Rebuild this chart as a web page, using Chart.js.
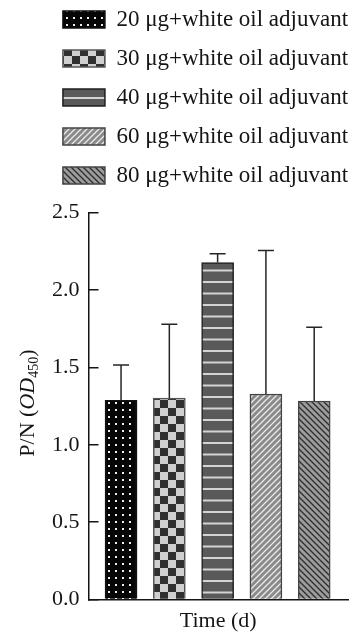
<!DOCTYPE html>
<html>
<head>
<meta charset="utf-8">
<script src="https://cdn.jsdelivr.net/npm/chart.js@4.4.1/dist/chart.umd.min.js"></script>
<style>
  html, body { margin: 0; padding: 0; background: #fff; }
  #wrap { width: 361px; height: 635px; position: relative; }
</style>
</head>
<body>
<div id="wrap"><canvas id="chart"></canvas></div>
<script>
// Datos (P/N a OD450)
const groups = [
  "20 μg+white oil adjuvant",
  "30 μg+white oil adjuvant",
  "40 μg+white oil adjuvant",
  "60 μg+white oil adjuvant",
  "80 μg+white oil adjuvant",
];
const means = [1.287, 1.302, 2.177, 1.328, 1.283];
const errors = [0.228, 0.477, 0.057, 0.927, 0.476];
const yTicks = [0, 0.5, 1.0, 1.5, 2.0, 2.5];
const xTitle = "Time (d)";

const SERIF = "'Liberation Serif', 'Times New Roman', serif";
const ink = "#151515";

// Texturas de relleno de cada barra
function makePattern(kind) {
  const c = document.createElement("canvas");
  const g = c.getContext("2d");
  if (kind === "dots") {
    c.width = 7; c.height = 7;
    g.fillStyle = "#060606"; g.fillRect(0, 0, 7, 7);
    g.fillStyle = "#eeeeee"; g.fillRect(3, 3, 2, 2);
  } else if (kind === "checker") {
    c.width = 16; c.height = 16;
    g.fillStyle = "#cfcfcf"; g.fillRect(0, 0, 16, 16);
    g.fillStyle = "#303030"; g.fillRect(0, 0, 8, 8); g.fillRect(8, 8, 8, 8);
  } else if (kind === "hlines") {
    c.width = 8; c.height = 23;
    g.fillStyle = "#5a5a5a"; g.fillRect(0, 0, 8, 23);
    g.fillStyle = "#d4d4d4"; g.fillRect(0, 5, 8, 2); g.fillRect(0, 16.5, 8, 2);
  } else if (kind === "fwd") {
    c.width = 6; c.height = 6;
    g.fillStyle = "#8a8a8a"; g.fillRect(0, 0, 6, 6);
    g.strokeStyle = "#eaeaea"; g.lineWidth = 1.3;
    g.beginPath();
    g.moveTo(-1, 7); g.lineTo(7, -1);
    g.moveTo(-1, 1); g.lineTo(1, -1);
    g.moveTo(5, 7); g.lineTo(7, 5);
    g.stroke();
  } else if (kind === "back") {
    c.width = 6; c.height = 6;
    g.fillStyle = "#9c9c9c"; g.fillRect(0, 0, 6, 6);
    g.strokeStyle = "#2c2c2c"; g.lineWidth = 1.3;
    g.beginPath();
    g.moveTo(-1, -1); g.lineTo(7, 7);
    g.moveTo(5, -1); g.lineTo(7, 1);
    g.moveTo(-1, 5); g.lineTo(1, 7);
    g.stroke();
  }
  return g.createPattern(c, "repeat");
}

const fills = ["dots", "checker", "hlines", "fwd", "back"].map(makePattern);
const borders = ["#111111", "#555555", "#1e1e1e", "#444444", "#444444"];

// Barras de error (solo hacia arriba)
const errorBarPlugin = {
  id: "errorBars",
  afterDatasetsDraw(chart) {
    const { ctx } = chart;
    const y = chart.scales.y;
    ctx.save();
    ctx.strokeStyle = "#262626";
    ctx.lineWidth = 1.5;
    chart.data.datasets.forEach((ds, i) => {
      const bar = chart.getDatasetMeta(i).data[0];
      if (!bar) return;
      const top = y.getPixelForValue(means[i] + errors[i]);
      const half = bar.width / 4;
      ctx.beginPath();
      ctx.moveTo(bar.x, bar.y);
      ctx.lineTo(bar.x, top);
      ctx.moveTo(bar.x - half, top);
      ctx.lineTo(bar.x + half, top);
      ctx.stroke();
    });
    ctx.restore();
  },
};

// Título del eje Y con cursiva y subíndice: P/N (OD450)
const yTitlePlugin = {
  id: "yTitle",
  afterDraw(chart) {
    const { ctx, chartArea } = chart;
    const parts = [
      { t: "P/N (", f: "22px " + SERIF, dy: 0 },
      { t: "OD", f: "italic 22px " + SERIF, dy: 0 },
      { t: "450", f: "14px " + SERIF, dy: 6 },
      { t: ")", f: "22px " + SERIF, dy: 0 },
    ];
    ctx.save();
    let total = 0;
    parts.forEach((p) => { ctx.font = p.f; p.w = ctx.measureText(p.t).width; total += p.w; });
    ctx.translate(28, (chartArea.top + chartArea.bottom) / 2 - 3);
    ctx.rotate(-Math.PI / 2);
    ctx.fillStyle = ink;
    ctx.textBaseline = "middle";
    let x = -total / 2;
    parts.forEach((p) => {
      ctx.font = p.f;
      ctx.fillText(p.t, x, p.dy);
      x += p.w;
    });
    ctx.restore();
  },
};

// La leyenda de la figura está corrida a la derecha del centro
const legendShift = {
  id: "legendShift",
  afterLayout(chart) {
    const L = chart.legend;
    if (!L) return;
    L.left += 15;
    L.right += 15;
  },
};

const ctx = document.getElementById("chart").getContext("2d");
new Chart(ctx, {
  type: "bar",
  data: {
    datasets: groups.map((g, i) => ({
      label: g,
      data: [{ x: i, y: means[i] }],
      backgroundColor: fills[i],
      borderColor: borders[i],
      borderWidth: 1.5,
      borderSkipped: "bottom",
      grouped: false,
      barThickness: 32,
    })),
  },
  options: {
    responsive: true,
    maintainAspectRatio: false,
    animation: false,
    layout: { padding: { top: -8, left: 33, right: 13, bottom: 1 } },
    plugins: {
      legend: {
        position: "top",
        align: "center",
        labels: {
          boxWidth: 42,
          boxHeight: 17,
          padding: 16,
          color: ink,
          font: { family: SERIF, size: 23 },
        },
      },
      // separador vacío entre leyenda y gráfico
      title: {
        display: true,
        text: "",
        weight: 500,
        padding: 0,
        font: { size: 13 },
      },
      tooltip: { enabled: false },
    },
    scales: {
      x: {
        type: "linear",
        min: -0.674,
        max: 4.70,
        offset: false,
        ticks: { display: false },
        grid: { display: false, drawTicks: false },
        border: { display: true, color: ink, width: 1.5 },
        title: {
          display: true,
          text: xTitle,
          color: ink,
          font: { family: SERIF, size: 22 },
          padding: { top: 8, bottom: 0 },
        },
      },
      y: {
        min: 0,
        max: 2.5,
        afterBuildTicks: (s) => { s.ticks = yTicks.map((v) => ({ value: v })); },
        ticks: {
          color: ink,
          padding: 19,
          font: { family: SERIF, size: 22 },
          callback: (v) => Number(v).toFixed(1),
        },
        grid: {
          drawOnChartArea: false,
          drawTicks: true,
          tickLength: -10,
          color: ink,
          lineWidth: 1.5,
        },
        border: { display: true, color: ink, width: 1.5 },
      },
    },
  },
  plugins: [errorBarPlugin, yTitlePlugin, legendShift],
});
</script>
</body>
</html>
